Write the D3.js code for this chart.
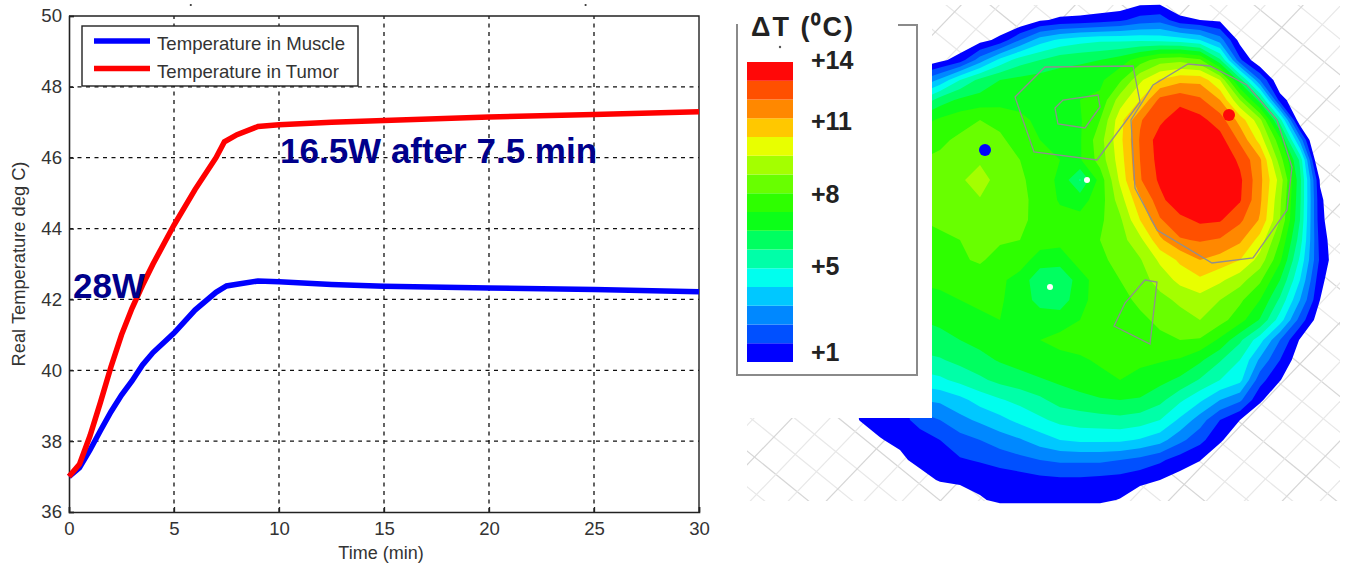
<!DOCTYPE html>
<html>
<head>
<meta charset="utf-8">
<script src="https://cdn.jsdelivr.net/npm/d3@7"></script>
<style>
  html, body { margin: 0; padding: 0; background: #fff; }
  svg { display: block; }
  text { font-family: "Liberation Sans", Arial, sans-serif; }
</style>
</head>
<body>
<div id="chart"></div>
<script>
var width = 1348;
var height = 568;

// left panel: temperature curves
var muscleTime = [0, 0.5, 1, 1.5, 2, 2.5, 3, 3.5, 4, 5, 6, 7, 7.5, 8, 9, 10, 12.5, 15, 20, 25, 30];
var muscleTemp = [37, 37.25, 37.75, 38.3, 38.83, 39.3, 39.7, 40.15, 40.5, 41.05, 41.7, 42.2, 42.38, 42.43, 42.52, 42.5, 42.42, 42.37, 42.32, 42.28, 42.22];
var tumorTime = [0, 0.5, 1, 1.5, 2, 2.5, 3, 3.5, 4, 5, 6, 7, 7.4, 8, 9, 10, 12.5, 15, 20, 25, 30];
var tumorTemp = [37, 37.35, 38.15, 39.1, 40.1, 41, 41.75, 42.4, 43, 44.1, 45.1, 46, 46.45, 46.65, 46.88, 46.93, 47, 47.05, 47.15, 47.22, 47.3];
var xTicks = [0, 5, 10, 15, 20, 25, 30];
var yTicks = [36, 38, 40, 42, 44, 46, 48, 50];
var legendNames = ["Temperature in Muscle", "Temperature in Tumor"];

// right panel: colour band per level, bottom (+1) to top (+14)
var bandColors = ["#0000ff", "#0050ff", "#0088ff", "#00c8ff", "#00ffee", "#00ffa8", "#00ff60", "#0cff18",
  "#2eff00", "#68ff00", "#a4ff00", "#e8ff00", "#ffc800", "#ff8800", "#ff5000", "#ff0808"];
var scaleLabels = ["+14", "+11", "+8", "+5", "+1"];
var scaleLabelBands = [16.1, 12.85, 8.96, 5.07, 0.53];

// thermal level, one row per grid line (20 px apart), 26 columns
var levelRows = [
  [0,0,0,0,0,0,0,0,0,0,0,0,0,0,0,.5,.5,0,0,0,0,0,0,0,0,0],
  [0,0,0,0,0,0,0,0,0,0,.85,1.2,1.3,1.5,1.8,2.4,2.6,1.3,1,.8,0,0,0,0,0,0],
  [0,0,0,0,0,0,0,.6,1.3,3,4.5,5.2,5.6,5.8,5.8,5.8,5.7,5.5,5,3.5,.6,0,0,0,0,0],
  [0,0,0,0,0,.7,1.5,3.5,5.3,6.5,7,7.6,7.8,8,8.5,9.5,10.5,10.7,10.2,7.2,2.2,0,0,0,0,0],
  [0,0,0,0,3,4.2,6,7.3,8,8.3,8.5,8.6,8.7,8.8,9.8,11.8,13.1,13.7,13.7,12,7.5,3,0,0,0,0],
  [0,0,0,0,6,7.5,8.2,8.4,8.6,8.7,8.8,8.9,9,9.2,11.5,13,15.3,15.7,15.2,14,11,7.5,1.5,0,0,0],
  [0,0,0,0,8.5,9.2,9.6,10,9.7,9.2,8.8,8.8,8.9,10,12.6,14.9,15.8,16.6,16.3,15.5,13.6,11.3,6.5,0,0,0],
  [0,0,0,0,9.5,9.8,10.2,10.4,10.2,9.5,9,8.9,8.9,10.6,12.7,15.1,16.5,17,17,16.4,14.8,12.6,9.3,3.7,-2,0],
  [0,0,0,0,10,10.2,10.4,10.9,10.4,10,9.4,9,8.9,10.4,12.5,15,16.4,17,17.2,16.8,15.8,14.2,10.5,6.8,-1,0],
  [0,0,0,0,10.1,10.3,10.9,11.3,10.7,10.2,9.5,8.8,6.9,9.4,12.2,14.9,16.2,17,17.4,17.2,16.2,14.3,11.6,7.3,.9,0],
  [0,0,0,0,10.1,10.3,10.5,10.95,10.5,10.3,9.6,8.9,8.6,9.5,11.5,13.8,15.7,16.8,17.2,17,16.1,14.2,11.2,7.2,1.2,0],
  [0,0,0,0,10,10.1,10.3,10.5,10.4,10.2,9.7,9.3,9.3,9.8,10.8,13,14.9,15.7,16.2,16.1,15.2,13.9,11,7,1.3,0],
  [0,0,0,0,9.8,9.9,10,10.2,10.1,10,9.5,9.3,9.4,10,10.6,11.7,13.8,14.9,15.1,14.9,14.2,12.6,10,6.5,1.6,0],
  [0,0,0,0,9.5,9.6,9.9,10.1,9.7,9.5,8.5,8.5,9.4,9.8,10.3,10.9,12.2,13.2,14,13.6,13,11.6,9.2,5.8,1.8,0],
  [0,0,0,0,9.1,9.2,9.4,9.6,9.2,8.6,7.3,7,8.6,9.5,10,10.6,11.4,12.3,12.8,12.2,11.4,10.2,8,5,1.3,0],
  [0,0,0,0,8.7,8.8,9,9.2,9.1,8.6,7.6,7.3,8.8,9.3,9.7,10.2,10.7,11.2,11.6,11,10.2,9,6.8,4,1,0],
  [0,0,0,0,8,8.2,8.5,8.8,9,8.7,8.6,8.7,9,9.2,9.5,9.8,10.2,10.6,11,10.4,9.4,7.9,5.5,2.6,.3,0],
  [0,0,0,0,7.5,7.7,8,8.3,8.6,8.8,9,9.2,9.3,9.4,9.5,9.6,9.8,10,9.9,8.8,7.2,5.4,3,.9,0,0],
  [0,0,0,0,6.7,6.9,7.3,7.7,8.1,8.4,8.7,8.8,8.9,9.1,9.2,9.2,9.1,8.9,8.2,7.1,6,3.8,2,.3,0,0],
  [0,0,0,0,5.5,5.8,6.3,6.8,7.3,7.6,7.9,8.2,8.6,8.8,9,8.7,8.3,7.8,6.9,6,5.3,2.4,1.05,0,0,0],
  [0,1.2,1.2,1.2,4,4.2,4.7,5.4,5.9,6.3,6.8,7.4,7.6,7.9,8,7.9,7.3,6.2,5.2,4,3.2,1.2,0,0,0,0],
  [0,1.05,1.3,1.6,2.4,3,3.7,4.2,4.7,5.3,5.8,6.3,6.5,6.6,6.7,6.5,6,4.8,3.5,2,1,0,0,0,0,0],
  [0,0,.95,1.2,1.5,2,2.6,3,3.5,3.9,4.5,5,5.2,5.2,5.2,4.9,4.4,3.3,2.3,1.2,0,0,0,0,0,0],
  [0,0,0,.8,1.3,1.5,1.9,2.1,2.4,2.7,3,3.2,3.2,3.2,3,2.7,2.2,1.5,1.05,0,0,0,0,0,0,0],
  [0,0,0,0,.6,1.1,1.2,1.3,1.4,1.5,1.7,1.8,1.8,1.7,1.6,1.3,1,.6,0,0,0,0,0,0,0,0],
  [0,0,0,0,0,0,.4,.9,1.2,1.2,1.2,1.2,1.2,1.2,.95,.3,0,0,0,0,0,0,0,0,0,0],
  [0,0,0,0,0,0,0,0,0,0,0,0,0,0,0,0,0,0,0,0,0,0,0,0,0,0]
];

// region outlines and probes, in grid units (column, row)
var regionOutlines = [
  [[8.75,4.85],[10.25,3.35],[14.65,3.3],[15,5.1],[12.85,8],[9.7,7.6]],
  [[10.75,5.4],[11.15,5],[12.9,4.75],[13,5.35],[12.25,6.4],[10.9,6.2]],
  [[17.4,3.2],[18.5,3.3],[20.35,4.25],[21.85,6],[22.6,8.35],[22.35,10.5],[20.65,12.9],[18.6,13.15],[15.85,11.5],[14.75,9.4],[14.55,6],[15.65,4.25]],
  [[15.25,14],[15.85,14.1],[15.5,17.2],[13.7,16.3],[14.25,15.15]]
];
var probeCol = [7.25, 19.45, 12.35, 10.5];
var probeRow = [7.5, 5.75, 9, 14.35];
var probeColor = ["#0000ff", "#ff0808", "#ffffff", "#ffffff"];
var probeSize = [6, 6, 3, 3];

var svg = d3.select("#chart").append("svg")
  .attr("width", width)
  .attr("height", height);

drawCurves();
drawMap();
drawScale();

function drawCurves() {
  var xScale = d3.scaleLinear().domain([0, 30]).range([69, 699]);
  var yScale = d3.scaleLinear().domain([36, 50]).range([512, 16]);

  var grid = svg.append("g");
  // dashed grid, no line on the frame itself
  grid.selectAll(".vgrid").data(xTicks.slice(1, -1)).enter().append("line")
    .attr("x1", d => xScale(d)).attr("x2", d => xScale(d))
    .attr("y1", yScale(36)).attr("y2", yScale(50));
  grid.selectAll(".hgrid").data(yTicks.slice(1, -1)).enter().append("line")
    .attr("class", "hgrid")
    .attr("x1", xScale(0)).attr("x2", xScale(30))
    .attr("y1", d => yScale(d)).attr("y2", d => yScale(d));
  grid.selectAll("line")
    .attr("stroke", "#111")
    .attr("stroke-width", 1.3)
    .attr("stroke-dasharray", "4,4.5");

  var xAxis = d3.axisBottom(xScale).tickValues(xTicks).tickSize(-5).tickPadding(10);
  var yAxis = d3.axisLeft(yScale).tickValues(yTicks).tickSize(-5).tickPadding(7);
  var gx = svg.append("g").attr("transform", "translate(0,512)").call(xAxis);
  var gy = svg.append("g").attr("transform", "translate(69,0)").call(yAxis);
  [gx, gy].forEach(function (g) {
    g.selectAll("text").style("font-size", "18.6px").attr("fill", "#333");
    g.selectAll("line").attr("stroke", "#222").attr("stroke-width", 1.3);
    g.select(".domain").attr("stroke", "#222").attr("stroke-width", 1.6);
  });

  // top and right side of the frame
  svg.append("path")
    .attr("d", d3.line()([[xScale(0), yScale(50)], [xScale(30), yScale(50)], [xScale(30), yScale(36)]]))
    .attr("fill", "none")
    .attr("stroke", "#222")
    .attr("stroke-width", 1.4);

  var line = d3.line().x(d => xScale(d[0])).y(d => yScale(d[1]));
  svg.append("path")
    .attr("d", line(d3.zip(muscleTime, muscleTemp)))
    .attr("fill", "none").attr("stroke", "#0000ff").attr("stroke-width", 5.5);
  svg.append("path")
    .attr("d", line(d3.zip(tumorTime, tumorTemp)))
    .attr("fill", "none").attr("stroke", "#ff0000").attr("stroke-width", 5.5);

  // axis labels
  svg.append("text")
    .attr("x", 381).attr("y", 559)
    .attr("text-anchor", "middle")
    .attr("fill", "#333")
    .style("font-size", "18px")
    .text("Time (min)");
  svg.append("text")
    .attr("transform", "translate(25,264) rotate(-90)")
    .attr("text-anchor", "middle")
    .attr("fill", "#333")
    .style("font-size", "18.3px")
    .text("Real Temperature deg C)");

  // legend box
  var legend = svg.append("g");
  legend.append("rect")
    .attr("x", 82).attr("y", 26).attr("width", 276).attr("height", 60)
    .attr("fill", "#fff").attr("stroke", "#222").attr("stroke-width", 1.4);
  var rows = legend.selectAll(".row").data(legendNames).enter().append("g")
    .attr("transform", (d, i) => "translate(0," + (41 + i * 27.5) + ")");
  rows.append("line")
    .attr("x1", 94).attr("x2", 150)
    .attr("stroke", (d, i) => i == 0 ? "#0000ff" : "#ff0000")
    .attr("stroke-width", 5.5);
  rows.append("text")
    .attr("x", 157).attr("y", 9)
    .attr("fill", "#333")
    .style("font-size", "18.6px")
    .text(d => d);

  // power annotations
  var notes = svg.append("g")
    .attr("fill", "#00008b")
    .style("font-size", "35px")
    .style("font-weight", "bold");
  notes.append("text").attr("x", 280).attr("y", 163).text("16.5W after 7.5 min");
  notes.append("text").attr("x", 73).attr("y", 298).text("28W");

  // specks on the top edge of the source figure
  svg.selectAll(".speck").data([5.8, 24.6]).enter().append("circle")
    .attr("class", "speck")
    .attr("cx", d => xScale(d)).attr("cy", 5).attr("r", 1.1).attr("fill", "#333");
}

function drawMap() {
  var cols = levelRows[0].length;
  var rows = levelRows.length;
  var mapX = d3.scaleLinear().domain([0, cols - 1]).range([840, 1340]);
  var mapY = d3.scaleLinear().domain([0, rows - 1]).range([0, 520]);

  // hatched table mesh behind the map
  var defs = svg.append("defs");
  defs.append("clipPath").attr("id", "meshClip").append("rect")
    .attr("x", 747).attr("y", 5).attr("width", 593).attr("height", 496);
  var mesh = svg.append("g").attr("clip-path", "url(#meshClip)")
    .attr("stroke-width", 1.2);
  mesh.selectAll(".down").data(d3.range(-600, 1500, 44)).enter().append("line")
    .attr("x1", d => d).attr("y1", 0)
    .attr("x2", d => d + 640).attr("y2", 520)
    .attr("stroke", (d, i) => i % 3 == 0 ? "#d6d6d6" : "#e8e8e8");
  mesh.selectAll(".up").data(d3.range(700, 2000, 38)).enter().append("line")
    .attr("x1", d => d).attr("y1", 0)
    .attr("x2", d => d - 500).attr("y2", 520)
    .attr("stroke", (d, i) => i % 3 == 1 ? "#d6d6d6" : "#e8e8e8");

  // isotherm bands from the level grid
  var contours = d3.contours()
    .size([cols, rows])
    .thresholds(d3.range(1, bandColors.length + 1))(d3.merge(levelRows));
  // d3.contours puts grid values at cell centres
  var path = d3.geoPath(d3.geoTransform({
    point: function (x, y) { this.stream.point(mapX(x - 0.5), mapY(y - 0.5)); }
  }));
  svg.append("g").selectAll("path").data(contours).enter().append("path")
    .attr("d", path)
    .attr("fill", d => bandColors[d.value - 1]);

  // region outlines
  var outline = d3.line().x(d => mapX(d[0])).y(d => mapY(d[1])).curve(d3.curveLinearClosed);
  svg.append("g").selectAll("path").data(regionOutlines).enter().append("path")
    .attr("d", outline)
    .attr("fill", "none")
    .attr("stroke", "#8f8f8f")
    .attr("stroke-width", 1.3);

  // probes
  svg.append("g").selectAll("circle").data(probeCol).enter().append("circle")
    .attr("cx", d => mapX(d))
    .attr("cy", (d, i) => mapY(probeRow[i]))
    .attr("r", (d, i) => probeSize[i])
    .attr("fill", (d, i) => probeColor[i]);

  // white panel that holds the colour scale, covers the map's left part
  svg.append("rect")
    .attr("x", 720).attr("y", 0).attr("width", 212).attr("height", 418)
    .attr("fill", "#fff");
}

function drawScale() {
  var bandY = d3.scaleLinear().domain([0, bandColors.length]).range([362, 62]);

  svg.append("path")
    .attr("d", d3.line()([[737, 24], [737, 375], [917, 375], [917, 25], [898, 25]]))
    .attr("fill", "none")
    .attr("stroke", "#8a8a8a")
    .attr("stroke-width", 2);

  svg.append("g").selectAll("rect").data(bandColors).enter().append("rect")
    .attr("x", 747)
    .attr("width", 46)
    .attr("y", (d, i) => bandY(i + 1))
    .attr("height", (d, i) => bandY(i) - bandY(i + 1))
    .attr("fill", d => d);

  svg.append("g").selectAll("text").data(scaleLabels).enter().append("text")
    .attr("x", 811)
    .attr("y", (d, i) => bandY(scaleLabelBands[i]) + 8.5)
    .attr("fill", "#222")
    .style("font-size", "25px")
    .style("font-weight", "bold")
    .text(d => d);

  svg.append("text")
    .attr("x", 751).attr("y", 36)
    .attr("fill", "#222")
    .style("font-size", "27px")
    .style("font-weight", "bold")
    .style("letter-spacing", "2px")
    .text("ΔT (⁰C)");

  svg.append("circle")
    .attr("cx", 780).attr("cy", 47).attr("r", 1.2).attr("fill", "#555");
}
</script>
</body>
</html>
